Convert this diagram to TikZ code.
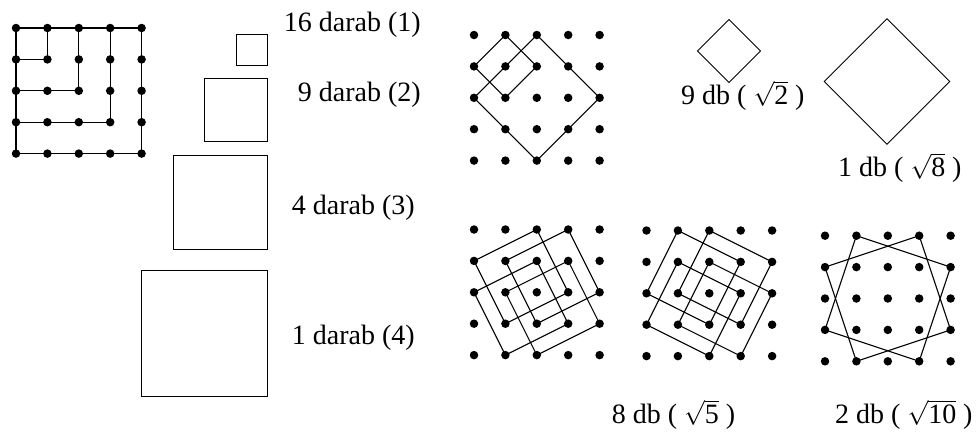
\documentclass[tikz,border=0pt]{standalone}
\usepackage{fontspec}
\setmainfont{Liberation Serif}
\tikzset{
  gdot/.style={fill=black, circle, inner sep=0pt, minimum size=8.5pt},
  ln/.style={line width=1.1pt, line join=miter},
  sq/.style={line width=0.9pt},
  lbl/.style={font=\fontsize{28}{30}\selectfont, inner sep=0pt},
}
\newcommand\dotgrid[3]{%
  \foreach \i in {0,...,4}{\foreach \j in {0,...,4}{%
    \node[gdot] (#1-\i-\j) at ({#2+\i*31.4},{#3+\j*31.4}) {};}}}
\begin{document}
\begin{tikzpicture}[x=1pt,y=-1pt]
\useasboundingbox (0,0) rectangle (976,431);
% top-left grid
\dotgrid{T}{16}{28}
\draw[ln] (T-0-0.center) -- (T-4-0.center) -- (T-4-4.center) -- (T-0-4.center) -- cycle;
\draw[ln] (T-1-0.center) -- (T-1-1.center) -- (T-0-1.center);
\draw[ln] (T-2-0.center) -- (T-2-2.center) -- (T-0-2.center);
\draw[ln] (T-3-0.center) -- (T-3-3.center) -- (T-0-3.center);
% squares
\draw[sq] (236.1,34) rectangle (267.5,65.4);
\draw[sq] (204.7,78.5) rectangle (267.5,141.3);
\draw[sq] (173.3,155.7) rectangle (267.5,249.9);
\draw[sq] (141.9,270.8) rectangle (267.5,396.4);
\node[lbl, anchor=base east] (l1) at (421,31) {16 darab (1)};
\node[lbl, anchor=base east] (l2) at (421,101.7) {9 darab (2)};
\node[lbl, anchor=base east] (l3) at (415,214) {4 darab (3)};
\node[lbl, anchor=base east] (l4) at (415,344) {1 darab (4)};
% top-right grid
\dotgrid{R}{474}{35}
\draw[ln] (R-1-0.center) -- (R-2-1.center) -- (R-1-2.center) -- (R-0-1.center) -- cycle;
\draw[ln] (R-2-0.center) -- (R-4-2.center) -- (R-2-4.center) -- (R-0-2.center) -- cycle;
% standalone diamonds
\draw[sq] (729,19.6) -- (760.4,51) -- (729,82.4) -- (697.6,51) -- cycle;
\draw[sq] (887,18.7) -- (949.8,81.5) -- (887,144.3) -- (824.2,81.5) -- cycle;
\node[lbl, anchor=base west] (l5) at (681,104) {9 db ( $\sqrt{\mbox{2}}$ )};
\node[lbl, anchor=base west] (l6) at (838,176.5) {1 db ( $\sqrt{\mbox{8}}$ )};
% bottom-left grid
\dotgrid{B}{474}{229.5}
\draw[ln] (B-0-1.center) -- (B-2-0.center) -- (B-3-2.center) -- (B-1-3.center) -- cycle;
\draw[ln] (B-1-1.center) -- (B-3-0.center) -- (B-4-2.center) -- (B-2-3.center) -- cycle;
\draw[ln] (B-0-2.center) -- (B-2-1.center) -- (B-3-3.center) -- (B-1-4.center) -- cycle;
\draw[ln] (B-1-2.center) -- (B-3-1.center) -- (B-4-3.center) -- (B-2-4.center) -- cycle;
% bottom-middle grid
\dotgrid{M}{646.5}{230.5}
\draw[ln] (M-1-0.center) -- (M-3-1.center) -- (M-2-3.center) -- (M-0-2.center) -- cycle;
\draw[ln] (M-2-0.center) -- (M-4-1.center) -- (M-3-3.center) -- (M-1-2.center) -- cycle;
\draw[ln] (M-1-1.center) -- (M-3-2.center) -- (M-2-4.center) -- (M-0-3.center) -- cycle;
\draw[ln] (M-2-1.center) -- (M-4-2.center) -- (M-3-4.center) -- (M-1-3.center) -- cycle;
% bottom-right grid
\dotgrid{N}{825}{235.7}
\draw[ln] (N-1-0.center) -- (N-4-1.center) -- (N-3-4.center) -- (N-0-3.center) -- cycle;
\draw[ln] (N-3-0.center) -- (N-4-3.center) -- (N-1-4.center) -- (N-0-1.center) -- cycle;
\node[lbl, anchor=base west] (l7) at (611.7,423) {8 db ( $\sqrt{\mbox{5}}$ )};
\node[lbl, anchor=base west] (l8) at (835,423) {2 db ( $\sqrt{\mbox{10}}$ )};
\end{tikzpicture}
\end{document}
